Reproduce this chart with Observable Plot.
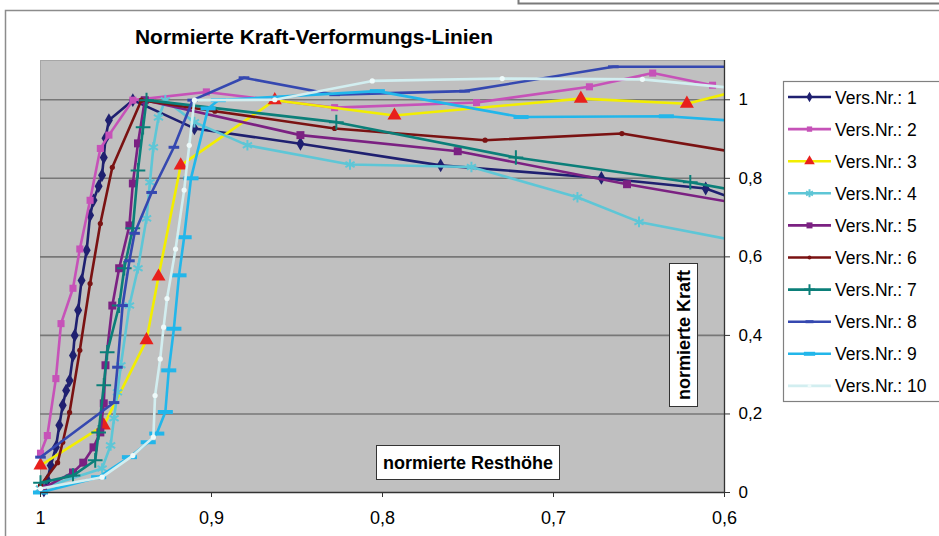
<!DOCTYPE html>
<html><head><meta charset="utf-8">
<script src="https://cdn.jsdelivr.net/npm/d3@7"></script>
<script src="https://cdn.jsdelivr.net/npm/@observablehq/plot@0.6"></script>
<style>body{margin:0;background:#fff;} svg{display:block}</style>
</head><body><div id="chart"></div>
<script>
const chartTitle = "Normierte Kraft-Verformungs-Linien";
const xLabel = "normierte Resthöhe";
const yLabel = "normierte Kraft";
const seriesNames = ["Vers.Nr.: 1","Vers.Nr.: 2","Vers.Nr.: 3","Vers.Nr.: 4","Vers.Nr.: 5","Vers.Nr.: 6","Vers.Nr.: 7","Vers.Nr.: 8","Vers.Nr.: 9","Vers.Nr.: 10"];
const xTicks = [1, 0.9, 0.8, 0.7, 0.6];
const yTicks = [0, 0.2, 0.4, 0.6, 0.8, 1];

const v1x = [0.998,0.996,0.994,0.991,0.989,0.987,0.985,0.983,0.981,0.980,0.978,0.976,0.973,0.971,0.969,0.966,0.964,0.963,0.962,0.960,0.946,0.910,0.848,0.766,0.672,0.611,0.600];
const v1y = [0.005,0.031,0.069,0.115,0.171,0.222,0.260,0.285,0.349,0.400,0.464,0.540,0.617,0.706,0.744,0.780,0.808,0.853,0.902,0.948,0.999,0.927,0.888,0.833,0.801,0.774,0.757];
const v2x = [1.000,0.996,0.991,0.988,0.981,0.977,0.971,0.965,0.960,0.946,0.903,0.828,0.745,0.679,0.642,0.607];
const v2y = [0.100,0.145,0.290,0.430,0.520,0.620,0.744,0.876,0.910,0.999,1.020,0.980,0.993,1.033,1.068,1.037];
const v3x = [1.000,0.963,0.938,0.931,0.918,0.863,0.793,0.684,0.622,0.600];
const v3y = [0.069,0.171,0.388,0.550,0.833,0.999,0.960,1.003,0.990,1.014];
const v4x = [1.000,0.964,0.959,0.957,0.955,0.953,0.948,0.943,0.938,0.936,0.934,0.931,0.927,0.910,0.879,0.819,0.748,0.686,0.650,0.600];
const v4y = [0.010,0.061,0.120,0.189,0.255,0.324,0.476,0.571,0.698,0.790,0.879,0.955,0.999,0.943,0.884,0.835,0.829,0.752,0.689,0.647];
const v5x = [0.999,0.981,0.975,0.969,0.965,0.963,0.962,0.958,0.954,0.948,0.946,0.943,0.939,0.848,0.756,0.657,0.600];
const v5y = [0.010,0.051,0.076,0.115,0.153,0.227,0.324,0.476,0.571,0.680,0.787,0.889,0.999,0.910,0.869,0.785,0.742];
const v6x = [1.000,0.990,0.987,0.983,0.977,0.971,0.965,0.958,0.941,0.898,0.828,0.740,0.660,0.600];
const v6y = [0.018,0.076,0.128,0.204,0.362,0.532,0.685,0.828,0.999,0.971,0.927,0.897,0.914,0.871];
const v7x = [1.000,0.981,0.968,0.966,0.963,0.961,0.954,0.951,0.946,0.943,0.940,0.938,0.827,0.722,0.620,0.600];
const v7y = [0.025,0.043,0.082,0.153,0.273,0.357,0.476,0.571,0.673,0.820,0.930,0.999,0.943,0.853,0.790,0.774];
const v8x = [1.000,0.957,0.955,0.952,0.948,0.945,0.935,0.922,0.911,0.881,0.828,0.752,0.665,0.600];
const v8y = [0.090,0.229,0.319,0.476,0.590,0.660,0.764,0.879,0.999,1.056,1.013,1.022,1.084,1.084];
const v9x = [1.000,0.966,0.948,0.937,0.932,0.927,0.925,0.922,0.919,0.916,0.912,0.902,0.896,0.803,0.719,0.634,0.600];
const v9y = [0.000,0.039,0.090,0.128,0.150,0.205,0.311,0.417,0.553,0.650,0.800,0.978,0.999,1.022,0.956,0.958,0.948];
const v10x = [1.000,0.964,0.946,0.934,0.933,0.930,0.928,0.926,0.921,0.916,0.913,0.910,0.863,0.806,0.730,0.648,0.600];
const v10y = [0.010,0.039,0.094,0.141,0.247,0.340,0.421,0.494,0.620,0.770,0.884,0.999,1.000,1.048,1.054,1.052,1.032];

const allX = [v1x,v2x,v3x,v4x,v5x,v6x,v7x,v8x,v9x,v10x];
const allY = [v1y,v2y,v3y,v4y,v5y,v6y,v7y,v8y,v9y,v10y];
const rows = seriesNames.flatMap((name, i) => allX[i].map((x, j) => ({series: name, x, y: allY[i][j]})));

// custom dash marker
const dash = {draw(ctx, size) { const r = Math.sqrt(size) / 2; ctx.moveTo(-r, 0); ctx.lineTo(r, 0); }};

const styles = [
  {line:"#1f2070", symbol:"diamond", r:4.2, fill:"#1f2070", stroke:"none", sw:0},
  {line:"#c652b8", symbol:"square", r:4, fill:"#c652b8", stroke:"none", sw:0},
  {line:"#f2ee00", symbol:"triangle", r:5.2, fill:"#e8201c", stroke:"none", sw:0},
  {line:"#5ec6d6", symbol:"asterisk", r:5, fill:"none", stroke:"#5ec6d6", sw:2},
  {line:"#7b2182", symbol:"square", r:4.5, fill:"#7b2182", stroke:"none", sw:0},
  {line:"#7a1212", symbol:"circle", r:2.6, fill:"#7a1212", stroke:"none", sw:0},
  {line:"#0b7f79", symbol:"plus", r:4.8, fill:"none", stroke:"#0b7f79", sw:2},
  {line:"#3548b0", symbol:dash, r:6, fill:"none", stroke:"#3548b0", sw:3},
  {line:"#22b6ea", symbol:dash, r:8.5, fill:"none", stroke:"#22b6ea", sw:4},
  {line:"#d2eef0", symbol:"circle", r:2.6, fill:"#eefafa", stroke:"none", sw:0}
];

const fmt = d => d === 0 ? "0" : d === 1 ? "1" : d.toFixed(1).replace(".", ",");
const font = "'Liberation Sans', Arial, Helvetica, sans-serif";

const seriesMarks = seriesNames.flatMap((name, i) => {
  const data = rows.filter(d => d.series === name);
  const s = styles[i];
  return [
    Plot.line(data, {x: "x", y: "y", stroke: s.line, strokeWidth: 2.6, clip: true}),
    Plot.dot(data.filter(d => d.x > 0.601), {x: "x", y: "y", symbol: s.symbol, r: s.r, fill: s.fill, stroke: s.stroke, strokeWidth: s.sw})
  ];
});

const svg = Plot.plot({
  width: 939, height: 536,
  marginTop: 60, marginBottom: 44, marginLeft: 40, marginRight: 215,
  style: {fontFamily: font, color: "#000", background: "#fff"},
  x: {domain: [1, 0.6]},
  y: {domain: [0, 1.1]},
  marks: [
    Plot.frame({fill: "#c0c0c0", stroke: "#a6a6a6"}),
    Plot.ruleY(yTicks.filter(d => d > 0), {stroke: "#777", strokeWidth: 1.6}),
    ...seriesMarks,
    Plot.ruleY([0], {stroke: "#333", strokeWidth: 1.3}),
    Plot.ruleX([0.6], {stroke: "#333", strokeWidth: 1.3}),
    Plot.axisX({ticks: xTicks, tickFormat: fmt, tickSize: 5, tickPadding: 14, fontSize: 18, stroke: "#333", label: null}),
    Plot.axisY({anchor: "right", ticks: yTicks, tickFormat: fmt, tickSize: 5, tickPadding: 9, fontSize: 17, stroke: "#333", label: null})
  ]
});

const root = d3.select(svg);
// outer chart border and neighbouring frame edge
root.insert("rect", ":first-child").attr("x", 5.5).attr("y", 10.5).attr("width", 945).attr("height", 540)
  .attr("fill", "#fff").attr("stroke", "#8c8c8c").attr("stroke-width", 1.5);
root.append("path").attr("d", "M518.5,0 V3.5 H939").attr("fill", "none").attr("stroke", "#7a7a7a").attr("stroke-width", 2);

// title
root.append("text").attr("x", 135).attr("y", 44).attr("font-size", 20.5).attr("font-weight", "bold")
  .attr("text-anchor", "start").attr("font-family", font)
  .attr("textLength", 358).attr("lengthAdjust", "spacingAndGlyphs").text(chartTitle);

// axis title boxes
const xl = root.append("g");
xl.append("rect").attr("x", 376.5).attr("y", 445.5).attr("width", 183).attr("height", 34)
  .attr("fill", "#fff").attr("stroke", "#333").attr("stroke-width", 1);
xl.append("text").attr("x", 468).attr("y", 469).attr("text-anchor", "middle").attr("font-size", 18)
  .attr("font-weight", "bold").attr("font-family", font).text(xLabel);
const yl = root.append("g");
yl.append("rect").attr("x", 669.5).attr("y", 263.5).attr("width", 28).attr("height", 143)
  .attr("fill", "#fff").attr("stroke", "#333").attr("stroke-width", 1);
yl.append("text").attr("transform", "translate(690,335) rotate(-90)").attr("text-anchor", "middle")
  .attr("font-size", 18).attr("font-weight", "bold").attr("font-family", font).text(yLabel);

// legend
const lg = root.append("g");
lg.append("rect").attr("x", 783.5).attr("y", 81.5).attr("width", 170).attr("height", 320)
  .attr("fill", "#fff").attr("stroke", "#808080").attr("stroke-width", 1.2);
seriesNames.forEach((name, i) => {
  const s = styles[i];
  const cy = 97 + i * 32.1;
  lg.append("line").attr("x1", 788).attr("x2", 831).attr("y1", cy).attr("y2", cy)
    .attr("stroke", s.line).attr("stroke-width", 2.6);
  const sym = typeof s.symbol === "string" ? ({diamond: d3.symbolDiamond, square: d3.symbolSquare, triangle: d3.symbolTriangle,
    asterisk: d3.symbolAsterisk, circle: d3.symbolCircle, plus: d3.symbolPlus})[s.symbol] : s.symbol;
  const lr = s.r * 0.75;
  lg.append("path").attr("transform", `translate(809.5,${cy})`)
    .attr("d", d3.symbol(sym, Math.PI * lr * lr)())
    .attr("fill", s.fill).attr("stroke", s.stroke === "none" ? null : s.stroke).attr("stroke-width", s.sw);
  lg.append("text").attr("x", 835).attr("y", cy + 6.5).attr("text-anchor", "start")
    .attr("font-size", 17.5).attr("font-family", font).text(name);
});

document.getElementById("chart").appendChild(svg);
</script>
</body></html>
